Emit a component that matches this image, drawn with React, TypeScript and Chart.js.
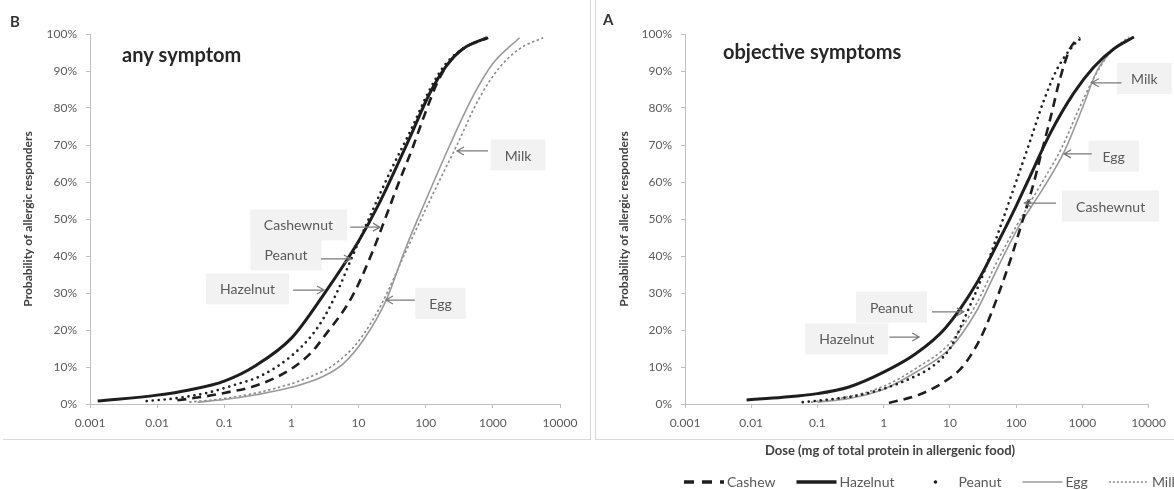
import { useEffect, useRef } from 'react';
import { Chart, registerables } from 'chart.js';

Chart.register(...registerables);

// ---------- axis ticks ----------
const xTickValues = [0.001, 0.01, 0.1, 1, 10, 100, 1000, 10000];
const xTickLabels = ['0.001', '0.01', '0.1', '1', '10', '100', '1000', '10000'];
const yTickValues = [0, 10, 20, 30, 40, 50, 60, 70, 80, 90, 100];

const seriesNames = ['Cashew', 'Hazelnut', 'Peanut', 'Egg', 'Milk'];

// ---------- panel B : any symptom ----------
const anyCashewDose = [0.02, 0.05, 0.1, 0.3, 1, 2, 3, 8, 16, 26, 40, 63, 100, 150, 207, 360, 850];
const anyCashewProb = [1, 2, 3, 5, 9.5, 14, 18, 29, 41, 51, 60, 69, 79, 87, 91.5, 96, 99];
const anyHazelnutDose = [0.0013, 0.01, 0.03, 0.1, 0.3, 1, 3, 10, 20, 58, 115, 207, 360, 818];
const anyHazelnutProb = [0.8, 2.4, 3.8, 6.2, 10.5, 17.8, 29.5, 44, 54, 72, 84, 91.6, 96, 99];
const anyPeanutDose = [0.007, 0.02, 0.055, 0.15, 0.35, 1, 2, 3.2, 5, 7.7, 15, 30, 60, 115, 200, 400, 850];
const anyPeanutProb = [0.8, 1.6, 3, 5.3, 7.6, 13, 18.5, 24, 31, 39, 51, 63, 74, 85, 92, 96.5, 99];
const anyEggDose = [0.04, 0.1, 0.3, 1, 3, 6, 12, 25.7, 50, 100, 229, 500, 1000, 2500];
const anyEggProb = [0.5, 1.2, 2.5, 4.5, 7.5, 11, 17.5, 28, 42, 55, 70, 83, 92, 99];
const anyMilkDose = [0.03, 0.1, 0.3, 1, 2, 4.2, 10, 22, 50, 130, 292, 600, 1200, 2500, 5600];
const anyMilkProb = [0.5, 1.5, 3, 5.5, 7.5, 10.5, 17, 27, 41, 57, 70, 82, 90.5, 96, 99];

// ---------- panel A : objective symptoms ----------
const objCashewDose = [1.2, 3.3, 7.4, 14.5, 20.4, 29, 41, 69, 93, 132, 186, 230, 316, 370, 445, 650, 910];
const objCashewProb = [0.3, 2.4, 5.5, 9.5, 13, 17.8, 24, 35, 42, 51, 60, 66.5, 76, 81, 87, 96, 99.2];
const objHazelnutDose = [0.0085, 0.03, 0.1, 0.3, 1, 3, 8.5, 26, 58, 100, 148, 324, 740, 1480, 3000, 6000];
const objHazelnutProb = [1.1, 1.8, 2.8, 4.6, 8.6, 13.5, 20.5, 33, 45, 53.5, 60, 73, 84, 91, 96, 99.2];
const objPeanutDose = [0.06, 0.13, 0.38, 1.07, 2.6, 5.3, 10, 18, 35, 58, 104, 162, 262, 415, 740, 1050];
const objPeanutProb = [0.5, 1.1, 2.2, 4.3, 7, 10, 15, 24.6, 37, 48, 61, 71, 82, 90.5, 97, 99.5];
const objEggDose = [0.1, 0.3, 1, 3, 10, 25, 50, 110, 250, 525, 1000, 1660, 3000, 6000];
const objEggProb = [0.5, 1.5, 4, 8.5, 15, 25, 36, 48, 58, 68, 80, 90, 96, 99.2];
const objMilkDose = [0.08, 0.3, 1, 3, 10, 25, 50, 100, 230, 480, 900, 1380, 2500, 5000];
const objMilkProb = [0.5, 2, 4.8, 9.5, 16.5, 27, 38, 48, 59, 69, 80, 87, 94.5, 99.2];

// ---------- callout labels (data coordinates) ----------
type Note = { text: string; boxDose: number; boxProb: number; tailDose: number; tipDose: number; arrowProb: number };
const anyNotes: Note[] = [
  { text: 'Cashewnut', boxDose: 1.27, boxProb: 48.4, tailDose: 7.5, tipDose: 20.8, arrowProb: 47.8 },
  { text: 'Peanut', boxDose: 0.83, boxProb: 40.3, tailDose: 2.75, tipDose: 7.7, arrowProb: 39.2 },
  { text: 'Hazelnut', boxDose: 0.222, boxProb: 31.1, tailDose: 1.06, tipDose: 3.05, arrowProb: 30.8 },
  { text: 'Egg', boxDose: 166, boxProb: 27.2, tailDose: 69, tipDose: 25.6, arrowProb: 28.1 },
  { text: 'Milk', boxDose: 2370, boxProb: 67.3, tailDose: 847, tipDose: 292, arrowProb: 68.4 },
];
const objNotes: Note[] = [
  { text: 'Milk', boxDose: 8630, boxProb: 88, tailDose: 3900, tipDose: 1387, arrowProb: 86.8 },
  { text: 'Egg', boxDose: 2960, boxProb: 67, tailDose: 1387, tipDose: 528, arrowProb: 67.6 },
  { text: 'Cashewnut', boxDose: 2670, boxProb: 53.5, tailDose: 401, tipDose: 133, arrowProb: 54.3 },
  { text: 'Peanut', boxDose: 1.31, boxProb: 26.2, tailDose: 5.37, tipDose: 16.2, arrowProb: 24.9 },
  { text: 'Hazelnut', boxDose: 0.277, boxProb: 17.6, tailDose: 1.22, tipDose: 3.44, arrowProb: 18.1 },
];

// ---------- styles ----------
const FONT = 'Lato, "Open Sans", sans-serif';
const INK = '#1e1e1e';
const TEXT = '#595959';
const AXIS = '#bfbfbf';

const seriesStyle: Record<string, any> = {
  Cashew: { borderColor: INK, borderWidth: 2.6, borderDash: [9, 6] },
  Hazelnut: { borderColor: INK, borderWidth: 3 },
  Peanut: { borderColor: INK, borderWidth: 2.7, borderDash: [0, 6], borderCapStyle: 'round' },
  Egg: { borderColor: '#9a9a9a', borderWidth: 1.6 },
  Milk: { borderColor: '#8a8a8a', borderWidth: 1.6, borderDash: [2.5, 2.5] },
};

function pts(d: number[], p: number[]) {
  return d.map((x, i) => ({ x, y: p[i] }));
}

function datasets(series: [string, number[], number[]][]) {
  return series.map(([name, d, p]) => ({
    label: name,
    data: pts(d, p),
    pointRadius: 0,
    fill: false,
    cubicInterpolationMode: 'monotone' as const,
    ...seriesStyle[name],
  }));
}

type PanelDef = {
  letter: string;
  letterX: number;
  letterY: number;
  subtitle: string;
  subtitleX: number;
  subtitleY: number;
  notes: Note[];
  withLegend: boolean;
};

function drawLegend(ctx: CanvasRenderingContext2D) {
  const y = 482;
  let x = 90;
  ctx.font = `14px ${FONT}`;
  ctx.textAlign = 'left';
  ctx.textBaseline = 'middle';
  seriesNames.forEach((name) => {
    const st = seriesStyle[name];
    ctx.save();
    ctx.strokeStyle = st.borderColor;
    ctx.fillStyle = st.borderColor;
    if (name === 'Peanut') {
      ctx.beginPath();
      ctx.arc(x + 21, y, 1.8, 0, Math.PI * 2);
      ctx.fill();
    } else {
      ctx.lineWidth = name === 'Cashew' ? 3.6 : name === 'Hazelnut' ? 3.4 : 1.5;
      ctx.setLineDash(name === 'Cashew' ? [10, 8] : name === 'Milk' ? [2, 2] : []);
      ctx.beginPath();
      ctx.moveTo(x + 1, y);
      ctx.lineTo(x + 41, y);
      ctx.stroke();
    }
    ctx.restore();
    x += 44;
    ctx.fillStyle = TEXT;
    ctx.fillText(name, x, y);
    x += ctx.measureText(name).width + 20;
  });
}

function makeOverlay(panel: PanelDef) {
  return {
    id: 'overlay' + panel.letter,
    afterDatasetsDraw(chart: any) {
      const ctx: CanvasRenderingContext2D = chart.ctx;
      const xs = chart.scales.x;
      const ys = chart.scales.y;
      ctx.save();
      ctx.textBaseline = 'middle';
      ctx.textAlign = 'left';
      ctx.fillStyle = '#333333';
      ctx.font = `bold 15px ${FONT}`;
      ctx.fillText(panel.letter, panel.letterX, panel.letterY);
      ctx.fillStyle = '#262626';
      ctx.font = `bold 20px ${FONT}`;
      ctx.fillText(panel.subtitle, panel.subtitleX, panel.subtitleY);

      ctx.font = `14px ${FONT}`;
      panel.notes.forEach((n) => {
        const cx = xs.getPixelForValue(n.boxDose);
        const cy = ys.getPixelForValue(n.boxProb);
        const tw = ctx.measureText(n.text).width;
        const w = tw + 28;
        const h = 31;
        ctx.fillStyle = '#f2f2f2';
        ctx.fillRect(cx - w / 2, cy - h / 2, w, h);
        ctx.fillStyle = TEXT;
        ctx.textAlign = 'center';
        ctx.fillText(n.text, cx, cy + 1);
        const x1 = xs.getPixelForValue(n.tailDose);
        const x2 = xs.getPixelForValue(n.tipDose);
        const ay = ys.getPixelForValue(n.arrowProb);
        const dir = Math.sign(x2 - x1);
        ctx.strokeStyle = '#7a7a7a';
        ctx.lineWidth = 1.2;
        ctx.beginPath();
        ctx.moveTo(x1, ay);
        ctx.lineTo(x2, ay);
        ctx.moveTo(x2 - dir * 7, ay - 4);
        ctx.lineTo(x2, ay);
        ctx.lineTo(x2 - dir * 7, ay + 4);
        ctx.stroke();
      });

      if (panel.withLegend) {
        ctx.fillStyle = '#404040';
        ctx.font = `bold 13px ${FONT}`;
        ctx.textAlign = 'center';
        ctx.fillText('Dose (mg of total protein in allergenic food)', 297, 451);
        drawLegend(ctx);
      }
      ctx.restore();
    },
  };
}

function buildOptions(yAxisWidth: number, xAxisHeight: number, rightPad: number, titlePad: number) {
  const tickFont = { family: FONT, size: 12 };
  return {
    responsive: false,
    animation: false as const,
    devicePixelRatio: 1,
    layout: { padding: { top: 34, right: rightPad, left: 0, bottom: 0 } },
    plugins: { legend: { display: false }, tooltip: { enabled: false } },
    scales: {
      x: {
        type: 'logarithmic' as const,
        min: 0.001,
        max: 10000,
        afterBuildTicks: (s: any) => {
          s.ticks = xTickValues.map((v) => ({ value: v }));
        },
        afterFit: (s: any) => {
          s.height = xAxisHeight;
        },
        ticks: {
          autoSkip: false,
          maxRotation: 0,
          padding: 8,
          color: TEXT,
          font: tickFont,
          callback: (v: any) => {
            const i = xTickValues.indexOf(Number(v));
            return i >= 0 ? xTickLabels[i] : '';
          },
        },
        grid: { drawOnChartArea: false, drawTicks: true, tickLength: 4, color: AXIS },
        border: { color: AXIS },
      },
      y: {
        min: 0,
        max: 100,
        afterBuildTicks: (s: any) => {
          s.ticks = yTickValues.map((v) => ({ value: v }));
        },
        afterFit: (s: any) => {
          s.width = yAxisWidth;
        },
        ticks: {
          padding: 9,
          color: TEXT,
          font: tickFont,
          callback: (v: any) => `${v}%`,
        },
        grid: { drawOnChartArea: false, drawTicks: true, tickLength: 4, color: AXIS },
        border: { color: AXIS },
        title: {
          display: true,
          text: 'Probability of allergic responders',
          color: '#404040',
          font: { family: FONT, size: 12, weight: 'bold' as const },
          padding: { top: titlePad, bottom: 0 },
        },
      },
    },
  };
}

export default function App() {
  const leftRef = useRef<HTMLCanvasElement>(null);
  const rightRef = useRef<HTMLCanvasElement>(null);

  useEffect(() => {
    document.body.style.margin = '0';
    const left = new Chart(leftRef.current!, {
      type: 'line',
      data: {
        datasets: datasets([
          ['Cashew', anyCashewDose, anyCashewProb],
          ['Hazelnut', anyHazelnutDose, anyHazelnutProb],
          ['Peanut', anyPeanutDose, anyPeanutProb],
          ['Egg', anyEggDose, anyEggProb],
          ['Milk', anyMilkDose, anyMilkProb],
        ]) as any,
      },
      options: buildOptions(90, 36, 32, 21) as any,
      plugins: [
        makeOverlay({
          letter: 'B',
          letterX: 10,
          letterY: 22,
          subtitle: 'any symptom',
          subtitleX: 122,
          subtitleY: 56,
          notes: anyNotes,
          withLegend: false,
        }),
      ],
    });
    const right = new Chart(rightRef.current!, {
      type: 'line',
      data: {
        datasets: datasets([
          ['Cashew', objCashewDose, objCashewProb],
          ['Hazelnut', objHazelnutDose, objHazelnutProb],
          ['Peanut', objPeanutDose, objPeanutProb],
          ['Egg', objEggDose, objEggProb],
          ['Milk', objMilkDose, objMilkProb],
        ]) as any,
      },
      options: buildOptions(92, 86, 22, 24) as any,
      plugins: [
        makeOverlay({
          letter: 'A',
          letterX: 10,
          letterY: 20,
          subtitle: 'objective symptoms',
          subtitleX: 130,
          subtitleY: 53,
          notes: objNotes,
          withLegend: true,
        }),
      ],
    });
    return () => {
      left.destroy();
      right.destroy();
    };
  }, []);

  const line = (s: any) => <div style={{ position: 'absolute', background: '#d9d9d9', ...s }} />;

  return (
    <div style={{ position: 'relative', width: 1174, height: 490, background: '#fff', overflow: 'hidden' }}>
      <canvas ref={leftRef} width={592} height={440} style={{ position: 'absolute', left: 0, top: 0 }} />
      <canvas ref={rightRef} width={581} height={490} style={{ position: 'absolute', left: 593, top: 0 }} />
      {line({ left: 3, top: 439, width: 588, height: 1 })}
      {line({ left: 590, top: 0, width: 1, height: 440 })}
      {line({ left: 595, top: 0, width: 1, height: 440 })}
      {line({ left: 595, top: 439, width: 579, height: 1 })}
    </div>
  );
}
